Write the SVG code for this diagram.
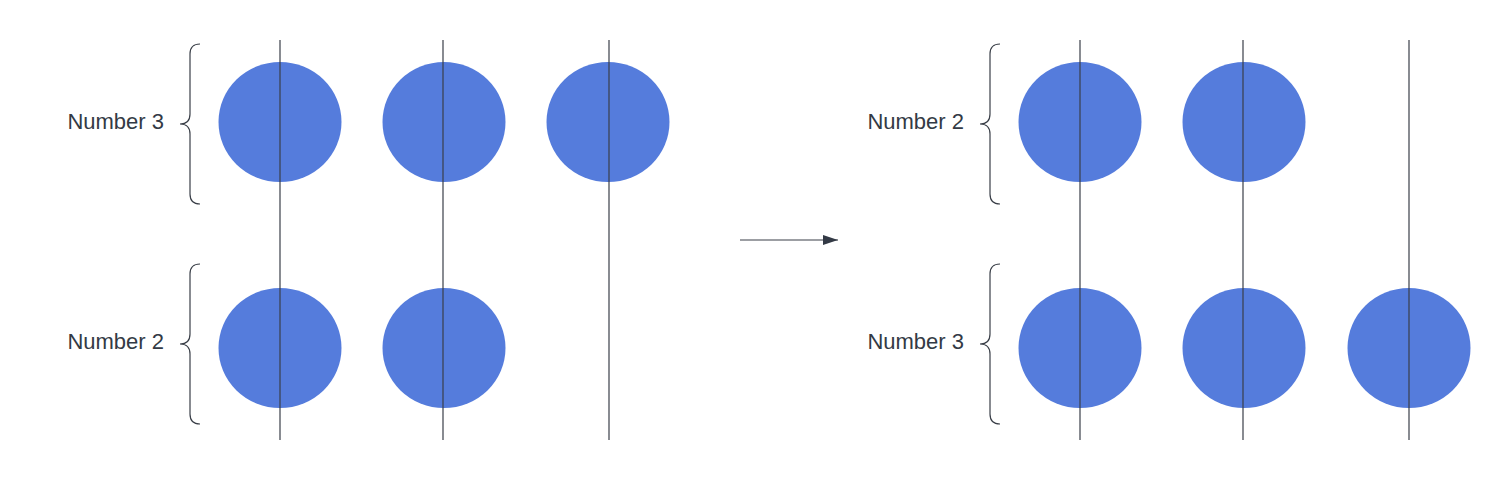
<svg xmlns="http://www.w3.org/2000/svg" width="1510" height="480" viewBox="0 0 1510 480">
<style>
.dot{fill:#557cdc}
.ln{stroke:#3a3f48;stroke-width:1.2;fill:none}
.br{stroke:#3a3f48;stroke-width:1.2;fill:none}
.lb{font-family:"Liberation Sans",Arial,sans-serif;font-size:22px;fill:#333a45;text-anchor:end}
</style>
<defs>
<marker id="ah" markerWidth="16" markerHeight="12" refX="15" refY="5" orient="auto" markerUnits="userSpaceOnUse">
<path d="M0,0 L15,5 L0,10 Z" fill="#333a45"/>
</marker>
</defs>
<rect width="1510" height="480" fill="#fff"/>
<g id="dots-left">
<ellipse class="dot" cx="280" cy="122" rx="61.5" ry="60"/>
<ellipse class="dot" cx="444" cy="122" rx="61.5" ry="60"/>
<ellipse class="dot" cx="608" cy="122" rx="61.5" ry="60"/>
<ellipse class="dot" cx="280" cy="348" rx="61.5" ry="60"/>
<ellipse class="dot" cx="444" cy="348" rx="61.5" ry="60"/>
</g>
<g id="dots-right">
<ellipse class="dot" cx="1080" cy="122" rx="61.5" ry="60"/>
<ellipse class="dot" cx="1244" cy="122" rx="61.5" ry="60"/>
<ellipse class="dot" cx="1080" cy="348" rx="61.5" ry="60"/>
<ellipse class="dot" cx="1244" cy="348" rx="61.5" ry="60"/>
<ellipse class="dot" cx="1409" cy="348" rx="61.5" ry="60"/>
</g>
<g id="lines">
<line class="ln" x1="280" y1="40" x2="280" y2="440"/>
<line class="ln" x1="443" y1="40" x2="443" y2="440"/>
<line class="ln" x1="609" y1="40" x2="609" y2="440"/>
<line class="ln" x1="1080" y1="40" x2="1080" y2="440"/>
<line class="ln" x1="1243" y1="40" x2="1243" y2="440"/>
<line class="ln" x1="1409" y1="40" x2="1409" y2="440"/>
</g>
<g id="braces">
<path class="br" d="M200,44 Q190,44 190,54 L190,114 Q190,124 180,124 Q190,124 190,134 L190,194 Q190,204 200,204"/>
<path class="br" d="M200,264 Q190,264 190,274 L190,334 Q190,344 180,344 Q190,344 190,354 L190,414 Q190,424 200,424"/>
<path class="br" d="M1000,44 Q990,44 990,54 L990,114 Q990,124 980,124 Q990,124 990,134 L990,194 Q990,204 1000,204"/>
<path class="br" d="M1000,264 Q990,264 990,274 L990,334 Q990,344 980,344 Q990,344 990,354 L990,414 Q990,424 1000,424"/>
</g>
<g id="labels">
<text class="lb" x="164" y="129">Number 3</text>
<text class="lb" x="164" y="349">Number 2</text>
<text class="lb" x="964" y="129">Number 2</text>
<text class="lb" x="964" y="349">Number 3</text>
</g>
<g id="connectors">
<line class="ln" x1="740" y1="240" x2="838" y2="240" marker-end="url(#ah)"/>
</g>
</svg>
